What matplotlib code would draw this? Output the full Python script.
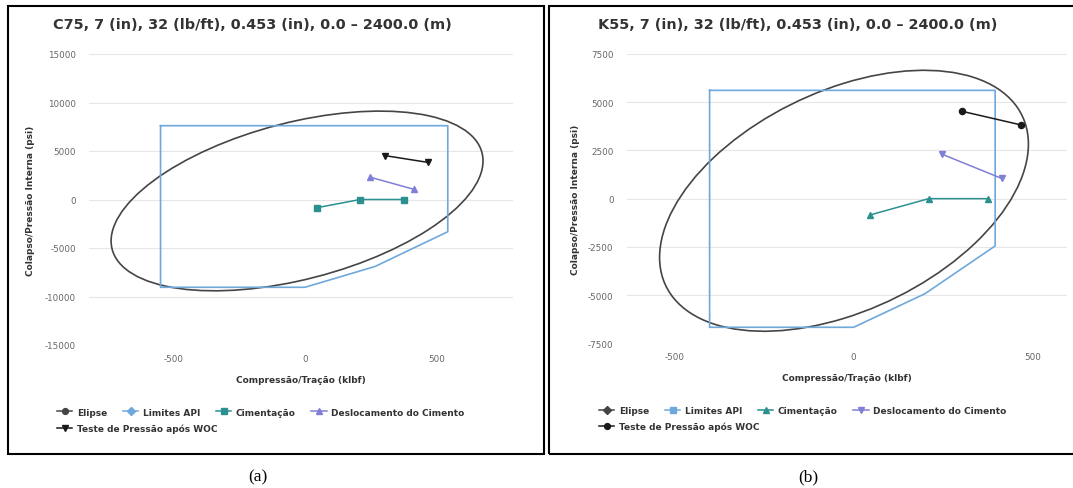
import numpy as np
import matplotlib
matplotlib.use("Agg")
import matplotlib.pyplot as plt
from matplotlib.patches import Ellipse, Rectangle
from matplotlib.lines import Line2D
from matplotlib.transforms import Affine2D

plt.rcParams['font.family'] = ['DejaVu Sans']
plt.rcParams['axes.unicode_minus'] = False

W, H = 1073, 489

# ---- dados (a) C75 ----
titulo_a = "C75, 7 (in), 32 (lb/ft), 0.453 (in), 0.0 – 2400.0 (m)"
elipse_a_centro = (-30, -150)
elipse_a_semi_x = 707      # meia largura (klbf)
elipse_a_semi_y = 9263     # meia altura (psi)
elipse_a_y_xmax = 4124     # y do ponto mais a direita, relativo ao centro
api_a_x = [-549, 543, 543, 267, 0, -549, -549]
api_a_y = [7608, 7608, -3320, -6900, -9050, -9050, 7608]
yticks_a = [-15000, -10000, -5000, 0, 5000, 10000, 15000]
xlim_a = (-821, 791)

# ---- dados (b) K55 ----
titulo_b = "K55, 7 (in), 32 (lb/ft), 0.453 (in), 0.0 – 2400.0 (m)"
elipse_b_centro = (-27, -110)
elipse_b_semi_x = 516
elipse_b_semi_y = 6765
elipse_b_y_xmax = 2936
api_b_x = [-403, 396, 396, 200, 0, -403, -403]
api_b_y = [5615, 5615, -2452, -4925, -6670, -6670, 5615]
yticks_b = [-7500, -5000, -2500, 0, 2500, 5000, 7500]
xlim_b = (-635, 597)

# ---- cargas (iguais nos dois casos) ----
cim_x = [45, 210, 375]
cim_y = [-850, 0, 0]
desl_x = [248, 414]
desl_y = [2300, 1050]
woc_x = [303, 469]
woc_y = [4530, 3820]
xticks = [-500, 0, 500]

nomes = ['Elipse', 'Limites API', 'Cimentação', 'Deslocamento do Cimento',
         'Teste de Pressão após WOC']

c_elipse = '#454545'
c_api = '#6fa8dc'
c_cim = '#2b908f'
c_desl = '#7f7fd5'
c_woc = '#1a1a1a'


def fx(px):
    return px / W


def fy(py):
    return 1 - py / H


fig = plt.figure(figsize=(W / 100, H / 100), dpi=100)


def painel(ax, titulo, tx, centro, sx, sy, yxm, ax_x, ax_y, yticks, xlim,
           simbolos, leg_x, leg_y1, leg_y2, ylab_x):
    # elipse de von Mises
    ux, uy = sx, yxm
    vy = np.sqrt(sy ** 2 - yxm ** 2)
    tr = Affine2D(np.array([[ux, 0, centro[0]], [uy, vy, centro[1]], [0, 0, 1]])) + ax.transData
    ax.add_patch(Ellipse((0, 0), 2, 2, transform=tr, fill=False, ec=c_elipse, lw=1.2, zorder=3))
    ax.plot(ax_x, ax_y, color=c_api, lw=1.2, zorder=3)
    ax.plot(cim_x, cim_y, color=c_cim, lw=1.1, marker=simbolos[2], ms=4.2, zorder=4)
    ax.plot(desl_x, desl_y, color=c_desl, lw=1.1, marker=simbolos[3], ms=4.2, zorder=4)
    ax.plot(woc_x, woc_y, color=c_woc, lw=1.1, marker=simbolos[4], ms=4.4, zorder=4)

    ax.set_xlim(*xlim)
    ax.set_ylim(yticks[0], yticks[-1])
    ax.set_xticks(xticks)
    ax.set_yticks(yticks)
    ax.grid(axis='y', color='#e6e6e6', lw=0.8)
    ax.set_axisbelow(True)
    for s in ax.spines.values():
        s.set_visible(False)
    ax.tick_params(length=0, labelsize=6.3, labelcolor='#666666')
    ax.tick_params(axis='y', pad=9.5)
    ax.tick_params(axis='x', pad=6.5)
    ax.set_xlabel('Compressão/Tração (klbf)', fontsize=6.5, fontweight='bold', color='#333333')
    ax.xaxis.set_label_coords(0.5, -0.117)
    ax.xaxis.label.set_va('center')
    ax.set_ylabel('Colapso/Pressão Interna (psi)', fontsize=6.5, fontweight='bold', color='#333333')
    ax.yaxis.set_label_coords(ylab_x, 0.5)
    ax.yaxis.label.set_va('center')

    fig.text(fx(tx), fy(25), titulo, fontsize=10.4, fontweight='bold', color='#333333',
             va='center', ha='left')

    # legenda no estilo Highcharts
    cores = [c_elipse, c_api, c_cim, c_desl, c_woc]
    hs = [Line2D([], [], color=c, lw=1.1, marker=m, ms=4.2) for c, m in zip(cores, simbolos)]
    kw = dict(frameon=False, loc='center left', borderpad=0, borderaxespad=0,
              handlelength=1.7, handletextpad=0.5, columnspacing=1.75,
              prop={'size': 6.5, 'weight': 'bold'}, labelcolor='#333333')
    fig.legend(hs[:4], nomes[:4], ncol=4, bbox_to_anchor=(fx(leg_x), fy(leg_y1)), **kw)
    fig.legend(hs[4:], nomes[4:], ncol=1, bbox_to_anchor=(fx(leg_x), fy(leg_y2)), **kw)


ax_a = fig.add_axes([fx(89), fy(346), fx(513 - 89), (346 - 55) / H])
painel(ax_a, titulo_a, 53, elipse_a_centro, elipse_a_semi_x, elipse_a_semi_y, elipse_a_y_xmax,
       api_a_x, api_a_y, yticks_a, xlim_a, ['o', 'D', 's', '^', 'v'], 57, 413, 429, -0.139)

ax_b = fig.add_axes([fx(626.7), fy(344.3), fx(1067 - 626.7), (344.3 - 55) / H])
painel(ax_b, titulo_b, 598, elipse_b_centro, elipse_b_semi_x, elipse_b_semi_y, elipse_b_y_xmax,
       api_b_x, api_b_y, yticks_b, xlim_b, ['D', 's', '^', 'v', 'o'], 599, 412, 427, -0.117)

# molduras dos paineis
for x0, x1 in [(8, 544), (549, 1080)]:
    fig.add_artist(Rectangle((fx(x0), fy(455)), fx(x1 - x0), (455 - 7) / H,
                             transform=fig.transFigure, fill=False, ec='black', lw=1.5))

for lab, x in [('(a)', 258), ('(b)', 808)]:
    fig.text(fx(x), fy(477), lab, fontsize=12.5, family='Liberation Serif', ha='center', va='center')

fig.savefig('out.png', dpi=100)
